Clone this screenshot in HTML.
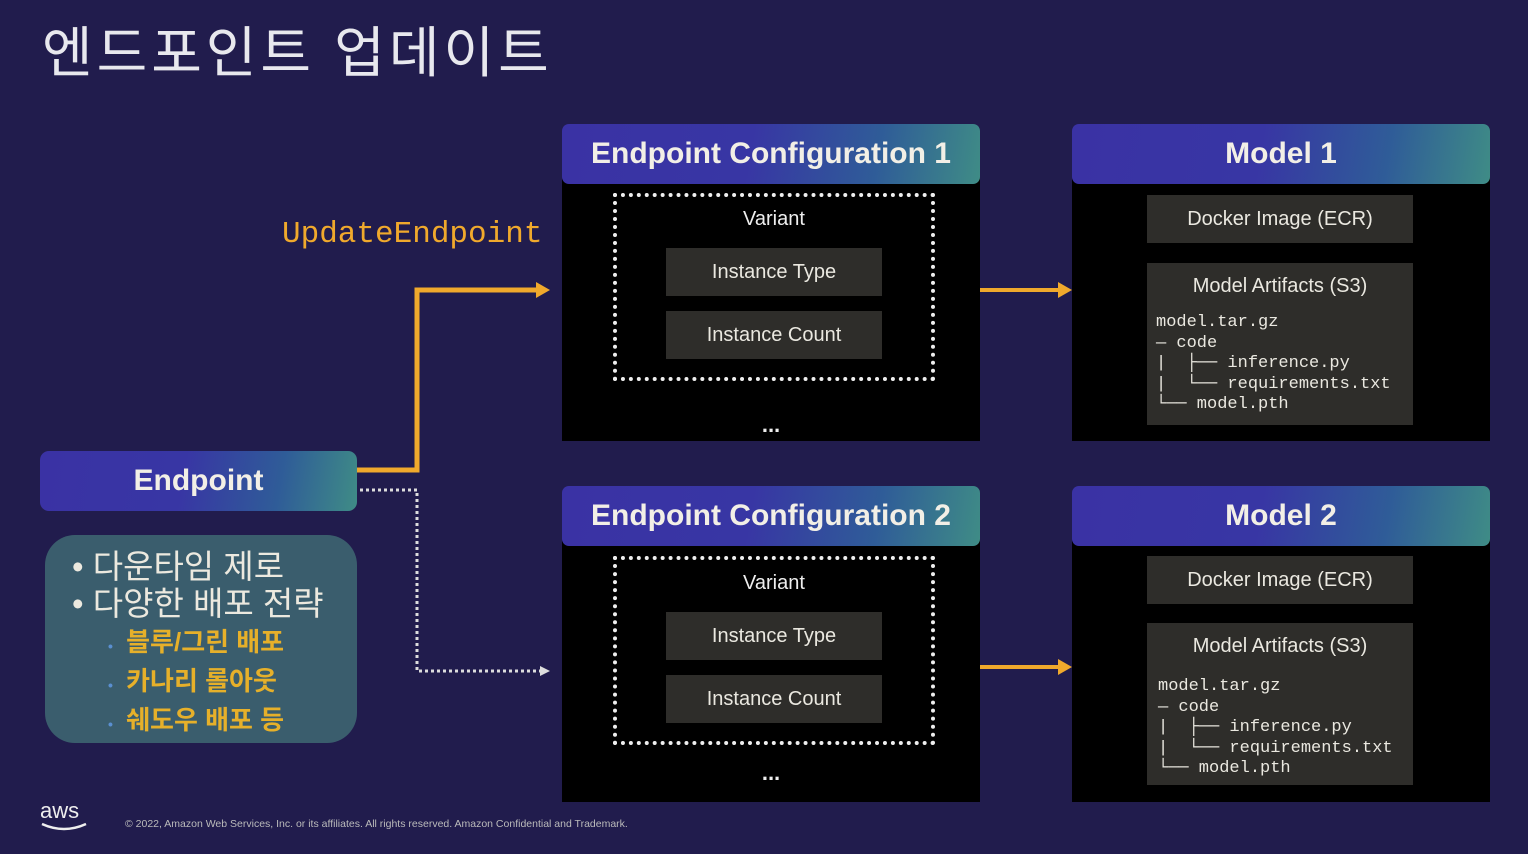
<!DOCTYPE html>
<html><head><meta charset="utf-8"><style>
*{margin:0;padding:0;box-sizing:border-box}
body{width:1528px;height:854px;background:#211c4d;position:relative;overflow:hidden;font-family:"Liberation Sans","Noto Sans CJK KR",sans-serif;color:#eee}
.abs{position:absolute}
.hdr{position:absolute;border-radius:7px;background:linear-gradient(100deg,#3a32a4 0%,#3836a4 45%,#2f5c98 75%,#3f8c86 100%);color:#f2efe6;font-weight:bold;font-size:30px;text-align:center;line-height:60px}
.body{position:absolute;background:#000}
.dot{position:absolute;border:4px dotted #eee}
.gb{position:absolute;background:#2e2d2a;color:#eae8e0;font-size:20px;text-align:center}
.mono{font-family:"Liberation Mono",monospace;font-size:17px;line-height:20.5px;color:#eae8e0;white-space:pre;position:absolute}
</style></head><body>
<div class="abs" style="left:42px;top:8px;font-size:55px;color:#e8e8ee;letter-spacing:4px">엔드포인트 업데이트</div>

<div class="abs" style="left:282px;top:217px;font-family:'Liberation Mono',monospace;font-size:31px;color:#f0a92c">UpdateEndpoint</div>

<!-- Config 1 -->
<div class="body" style="left:562px;top:170px;width:418px;height:271px"></div>
<div class="hdr" style="left:562px;top:124px;width:418px;height:60px">Endpoint Configuration 1</div>
<div class="dot" style="left:613px;top:193px;width:322px;height:188px"></div>
<div class="abs" style="left:613px;top:208px;width:322px;text-align:center;font-size:20px">Variant</div>
<div class="gb" style="left:666px;top:248px;width:216px;height:48px;line-height:48px">Instance Type</div>
<div class="gb" style="left:666px;top:311px;width:216px;height:48px;line-height:48px">Instance Count</div>
<div class="abs" style="left:562px;top:412px;width:418px;text-align:center;font-size:22px;font-weight:bold">...</div>

<!-- Config 2 -->
<div class="body" style="left:562px;top:532px;width:418px;height:270px"></div>
<div class="hdr" style="left:562px;top:486px;width:418px;height:60px">Endpoint Configuration 2</div>
<div class="dot" style="left:613px;top:556px;width:322px;height:189px"></div>
<div class="abs" style="left:613px;top:572px;width:322px;text-align:center;font-size:20px">Variant</div>
<div class="gb" style="left:666px;top:612px;width:216px;height:48px;line-height:48px">Instance Type</div>
<div class="gb" style="left:666px;top:675px;width:216px;height:48px;line-height:48px">Instance Count</div>
<div class="abs" style="left:562px;top:760px;width:418px;text-align:center;font-size:22px;font-weight:bold">...</div>

<!-- Model 1 -->
<div class="body" style="left:1072px;top:170px;width:418px;height:271px"></div>
<div class="hdr" style="left:1072px;top:124px;width:418px;height:60px">Model 1</div>
<div class="gb" style="left:1147px;top:195px;width:266px;height:48px;line-height:48px">Docker Image (ECR)</div>
<div class="gb" style="left:1147px;top:263px;width:266px;height:162px"><div style="margin-top:12px">Model Artifacts (S3)</div></div>
<div class="mono" style="left:1156px;top:313px">model.tar.gz
— code
|  ├── inference.py
|  └── requirements.txt
└── model.pth</div>

<!-- Model 2 -->
<div class="body" style="left:1072px;top:532px;width:418px;height:270px"></div>
<div class="hdr" style="left:1072px;top:486px;width:418px;height:60px">Model 2</div>
<div class="gb" style="left:1147px;top:556px;width:266px;height:48px;line-height:48px">Docker Image (ECR)</div>
<div class="gb" style="left:1147px;top:623px;width:266px;height:162px"><div style="margin-top:12px">Model Artifacts (S3)</div></div>
<div class="mono" style="left:1158px;top:677px">model.tar.gz
— code
|  ├── inference.py
|  └── requirements.txt
└── model.pth</div>

<!-- Endpoint -->
<div class="hdr" style="left:40px;top:451px;width:317px;height:60px;border-radius:9px">Endpoint</div>
<div class="abs" style="left:45px;top:535px;width:312px;height:208px;border-radius:30px;background:#3a5d6d"></div>
<div class="abs" style="left:72px;top:548px;font-size:33px;line-height:37px;color:#ece9df">• 다운타임 제로<br>• 다양한 배포 전략</div>
<div class="abs" style="left:108px;top:625px;font-size:26px;line-height:35px;color:#e6b02a;font-weight:bold"><span style="color:#5a8fd0;font-size:14px;margin-right:6px">•</span> 블루/그린 배포<br><span style="color:#5a8fd0;font-size:14px;margin-right:6px">•</span> 카나리 롤아웃<br><span style="color:#5a8fd0;font-size:14px;margin-right:6px">•</span> 쉐도우 배포 등</div>

<svg class="abs" style="left:0;top:0" width="1528" height="854">
<polyline points="357,470 417,470 417,290 538,290" fill="none" stroke="#f0a92c" stroke-width="5"/>
<polygon points="536,282 550,290 536,298" fill="#f0a92c"/>
<line x1="980" y1="290" x2="1060" y2="290" stroke="#f0a92c" stroke-width="4"/>
<polygon points="1058,282 1072,290 1058,298" fill="#f0a92c"/>
<line x1="980" y1="667" x2="1060" y2="667" stroke="#f0a92c" stroke-width="4"/>
<polygon points="1058,659 1072,667 1058,675" fill="#f0a92c"/>
<polyline points="360,490 417,490 417,671 540,671" fill="none" stroke="#ddd" stroke-width="3" stroke-dasharray="3,3"/>
<polygon points="540,666 550,671 540,676" fill="#ddd"/>
</svg>

<div class="abs" style="left:40px;top:798px;font-size:22px;color:#eee">aws</div>
<svg class="abs" style="left:40px;top:820px" width="52" height="14"><path d="M2,4 Q24,14 46,4" fill="none" stroke="#eee" stroke-width="2.5"/></svg>
<div class="abs" style="left:125px;top:818px;font-size:10.5px;color:#bbb">© 2022, Amazon Web Services, Inc. or its affiliates. All rights reserved. Amazon Confidential and Trademark.</div>
</body></html>
